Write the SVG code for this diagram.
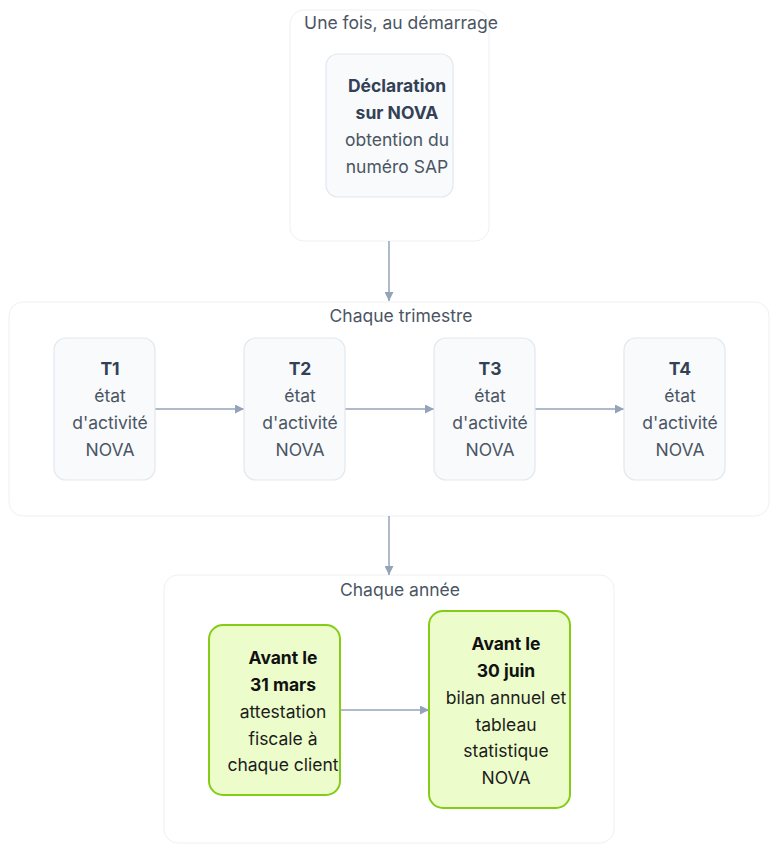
<svg xmlns="http://www.w3.org/2000/svg" width="780" height="854" viewBox="0 0 780 854">
<defs>
<style>
.cluster{fill:#ffffff;stroke:#eef0f3;stroke-width:1}
.ctitle{font-family:Inter,"Noto Sans",sans-serif;font-size:17.5px;fill:#4b5563;text-anchor:middle}
.gnode{fill:#f8fafc;stroke:#e2e8f0;stroke-width:1.2}
.green{fill:#ecfccb;stroke:#84cc16;stroke-width:2}
.t{font-family:Inter,"Noto Sans",sans-serif;font-size:17.5px;text-anchor:middle}
.g{fill:#4b5563}
.gb{fill:#334155;font-weight:700}
.k{fill:#1c1c1c}
.kb{fill:#111111;font-weight:700}
.edge{stroke:#94a3b8;stroke-width:1.5;fill:none}
</style>
<marker id="ah" viewBox="0 0 10 10" refX="10" refY="5" markerWidth="9" markerHeight="9" orient="auto" markerUnits="userSpaceOnUse">
<path d="M0,0 L10,5 L0,10 z" fill="#94a3b8"/>
</marker>
</defs>
<rect width="780" height="854" fill="#ffffff"/>
<g id="cluster-start">
<rect class="cluster" x="290" y="10" width="199" height="231" rx="14"/>
<text class="ctitle" x="401" y="29">Une fois, au démarrage</text>
</g>
<g id="cluster-quarter">
<rect class="cluster" x="9" y="302" width="760" height="214" rx="14"/>
<text class="ctitle" x="401" y="322">Chaque trimestre</text>
</g>
<g id="cluster-year">
<rect class="cluster" x="164" y="575" width="450" height="268" rx="14"/>
<text class="ctitle" x="400" y="596">Chaque année</text>
</g>
<g id="connectors">
<line class="edge" x1="389" y1="241" x2="389" y2="301" marker-end="url(#ah)"/>
<line class="edge" x1="389" y1="516" x2="389" y2="575" marker-end="url(#ah)"/>
<line class="edge" x1="155" y1="409" x2="244" y2="409" marker-end="url(#ah)"/>
<line class="edge" x1="345" y1="409" x2="434" y2="409" marker-end="url(#ah)"/>
<line class="edge" x1="535" y1="409" x2="624" y2="409" marker-end="url(#ah)"/>
<line class="edge" x1="340" y1="710" x2="429" y2="710" marker-end="url(#ah)"/>
</g>
<g id="node-declaration">
<rect class="gnode" x="326" y="54" width="127" height="143" rx="12"/>
<text class="t gb" x="397" y="92">Déclaration</text>
<text class="t gb" x="397" y="119">sur NOVA</text>
<text class="t g" x="397" y="146">obtention du</text>
<text class="t g" x="397" y="173">numéro SAP</text>
</g>
<g id="node-t1">
<rect class="gnode" x="54" y="338" width="101" height="142" rx="12"/>
<text class="t gb" x="110" y="375">T1</text>
<text class="t g" x="110" y="402">état</text>
<text class="t g" x="110" y="429">d'activité</text>
<text class="t g" x="110" y="456">NOVA</text>
</g>
<g id="node-t2">
<rect class="gnode" x="244" y="338" width="101" height="142" rx="12"/>
<text class="t gb" x="300" y="375">T2</text>
<text class="t g" x="300" y="402">état</text>
<text class="t g" x="300" y="429">d'activité</text>
<text class="t g" x="300" y="456">NOVA</text>
</g>
<g id="node-t3">
<rect class="gnode" x="434" y="338" width="101" height="142" rx="12"/>
<text class="t gb" x="490" y="375">T3</text>
<text class="t g" x="490" y="402">état</text>
<text class="t g" x="490" y="429">d'activité</text>
<text class="t g" x="490" y="456">NOVA</text>
</g>
<g id="node-t4">
<rect class="gnode" x="624" y="338" width="101" height="142" rx="12"/>
<text class="t gb" x="680" y="375">T4</text>
<text class="t g" x="680" y="402">état</text>
<text class="t g" x="680" y="429">d'activité</text>
<text class="t g" x="680" y="456">NOVA</text>
</g>
<g id="node-mars">
<rect class="green" x="209" y="625" width="131" height="170" rx="14"/>
<text class="t kb" x="283" y="664">Avant le</text>
<text class="t kb" x="283" y="691">31 mars</text>
<text class="t k" x="283" y="718">attestation</text>
<text class="t k" x="283" y="745">fiscale à</text>
<text class="t k" x="283" y="771">chaque client</text>
</g>
<g id="node-juin">
<rect class="green" x="429" y="611" width="141" height="197" rx="14"/>
<text class="t kb" x="506" y="650">Avant le</text>
<text class="t kb" x="506" y="677">30 juin</text>
<text class="t k" x="506" y="704">bilan annuel et</text>
<text class="t k" x="506" y="731">tableau</text>
<text class="t k" x="506" y="757">statistique</text>
<text class="t k" x="506" y="784">NOVA</text>
</g>
</svg>
